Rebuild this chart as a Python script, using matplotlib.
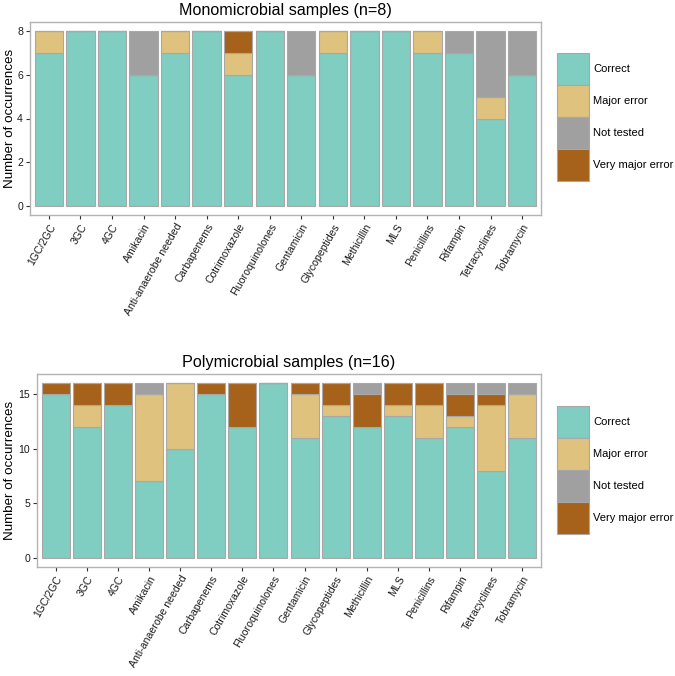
import matplotlib.pyplot as plt
import matplotlib.transforms as mtransforms
import numpy as np
from matplotlib.patches import Patch

plt.rcParams["font.family"] = ["Liberation Sans", "DejaVu Sans"]

drugs = ["1GC/2GC", "3GC", "4GC", "Amikacin", "Anti-anaerobe needed", "Carbapenems",
         "Cotrimoxazole", "Fluoroquinolones", "Gentamicin", "Glycopeptides", "Methicillin",
         "MLS", "Penicillins", "Rifampin", "Tetracyclines", "Tobramycin"]

# monomicrobial (n=8)
mono_correct = [7, 8, 8, 6, 7, 8, 6, 8, 6, 7, 8, 8, 7, 7, 4, 6]
mono_major = [1, 0, 0, 0, 1, 0, 1, 0, 0, 1, 0, 0, 1, 0, 1, 0]
mono_very_major = [0, 0, 0, 0, 0, 0, 1, 0, 0, 0, 0, 0, 0, 0, 0, 0]
mono_not_tested = [0, 0, 0, 2, 0, 0, 0, 0, 2, 0, 0, 0, 0, 1, 3, 2]

# polymicrobial (n=16)
poly_correct = [15, 12, 14, 7, 10, 15, 12, 16, 11, 13, 12, 13, 11, 12, 8, 11]
poly_major = [0, 2, 0, 8, 6, 0, 0, 0, 4, 1, 0, 1, 3, 1, 6, 4]
poly_very_major = [1, 2, 2, 0, 0, 1, 4, 0, 1, 2, 3, 2, 2, 2, 1, 0]
poly_not_tested = [0, 0, 0, 1, 0, 0, 0, 0, 0, 0, 1, 0, 0, 1, 1, 1]

categories = ["Correct", "Major error", "Not tested", "Very major error"]
colors = {"Correct": "#80CDC1", "Major error": "#DFC27D",
          "Not tested": "#A0A0A0", "Very major error": "#A6611A"}
edge = "#A8A8A8"

W, H = 675, 676


def px_axes(fig, left, top, right, bottom):
    return fig.add_axes([left / W, 1 - bottom / H, (right - left) / W, (bottom - top) / H])


def draw_panel(fig, ax, title, n, stacks, yticks, legend_top):
    x = np.arange(1, len(drugs) + 1)
    bottom = np.zeros(len(drugs))
    for name, vals in stacks:
        vals = np.array(vals, dtype=float)
        ax.bar(x, vals, bottom=bottom, width=0.9, color=colors[name],
               edgecolor=edge, linewidth=0.8)
        bottom += vals
    ax.set_xlim(0.4, len(drugs) + 0.6)
    ax.set_ylim(-0.05 * n, n * 1.05)
    ax.set_yticks(yticks)
    ax.set_xticks(x)
    ax.set_xticklabels(drugs, rotation=60, ha="right", rotation_mode="anchor")
    ax.tick_params(axis="both", colors="#333333", length=3, width=0.8, labelsize=7.6,
                   labelcolor="#1a1a1a", pad=2)
    for s in ax.spines.values():
        s.set_color("#B3B3B3")
        s.set_linewidth(1.0)
    ax.set_ylabel("Number of occurrences", fontsize=9.6)
    blend = mtransforms.blended_transform_factory(fig.transFigure, ax.transAxes)
    ax.yaxis.set_label_coords(16.5 / W, 0.5, transform=blend)
    ax.set_title(title, fontsize=11.6, pad=5)

    handles = [Patch(facecolor=colors[c], edgecolor=edge, linewidth=0.8) for c in categories]
    ax.legend(handles, categories, loc="upper left",
              bbox_to_anchor=(557 / W, 1 - legend_top / H), bbox_transform=fig.transFigure,
              frameon=False, handlelength=2.88, handleheight=4.05, labelspacing=0,
              handletextpad=0.4, borderaxespad=0, borderpad=0, fontsize=8)


fig = plt.figure(figsize=(W / 100, H / 100), dpi=100)

ax1 = px_axes(fig, 30, 22, 541, 215)
draw_panel(fig, ax1, "Monomicrobial samples (n=8)", 8,
           [("Correct", mono_correct), ("Major error", mono_major),
            ("Very major error", mono_very_major), ("Not tested", mono_not_tested)],
           [0, 2, 4, 6, 8], 53)

ax2 = px_axes(fig, 37, 374, 541, 567)
draw_panel(fig, ax2, "Polymicrobial samples (n=16)", 16,
           [("Correct", poly_correct), ("Major error", poly_major),
            ("Very major error", poly_very_major), ("Not tested", poly_not_tested)],
           [0, 5, 10, 15], 406)

fig.savefig("out.png", dpi=100)
